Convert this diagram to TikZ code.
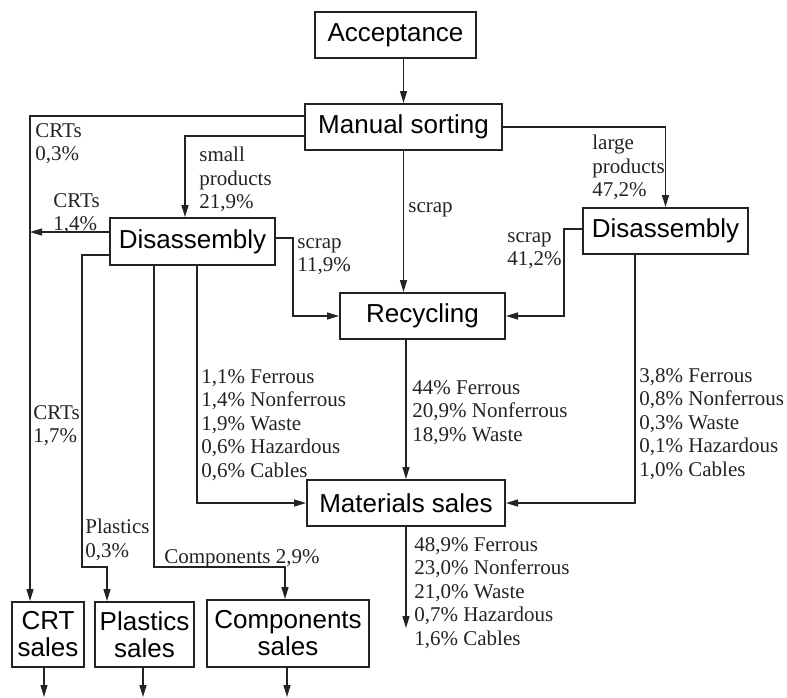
\documentclass[tikz,border=0pt]{standalone}
\usepackage{fontspec}
\setmainfont{Liberation Serif}
\setsansfont{Liberation Sans}
\usetikzlibrary{arrows.meta,positioning}
\definecolor{linecol}{RGB}{35,35,35}
\tikzset{
  block/.style ={rectangle, draw=linecol, line width=1pt, align=center, inner sep=1pt,
                 minimum height=23pt, text=black, font=\sffamily\fontsize{13}{13.5}\selectfont},
  flow/.style  ={-{Triangle[length=6pt,width=3.5pt]}, line width=0.65pt, draw=linecol},
  lbl/.style   ={font=\fontsize{10.5}{11.75}\selectfont, align=left, inner sep=0pt,
                 anchor=north west, text=linecol},
}
\begin{document}
\begin{tikzpicture}[x=0.5pt,y=-0.5pt]
    \useasboundingbox (0,0) rectangle (787,697);
    % boxes
    \node[block, minimum width=80.5pt] (acc)  at (395.5,35)  {Acceptance};
    \node[block, minimum width=98.5pt] (sort) at (403.5,127) {Manual sorting};
    \node[block, minimum width=82.5pt, minimum height=23.5pt] (disL) at (192.5,241.5) {Disassembly};
    \node[block, minimum width=82.5pt] (disR) at (665.5,231) {Disassembly};
    \node[block, minimum width=82.5pt] (rec)  at (422.5,316) {Recycling};
    \node[block, minimum width=99pt]   (mat)  at (406,503)   {Materials sales};
    \node[block, minimum width=36pt, minimum height=32.5pt]   (crt) at (48,634.5)  {CRT\\sales};
    \node[block, minimum width=49.5pt, minimum height=32.5pt] (pla) at (144.5,634.5) {Plastics\\sales};
    \node[block, minimum width=81pt, minimum height=33.5pt]   (com) at (288,633.5) {Components\\sales};

    % bend points and free ends
    \coordinate (crtTop) at (30,116);   \coordinate (crtMid) at (30,232);
    \coordinate (smallBend) at (185,136);
    \coordinate (plaA) at (82,255);     \coordinate (plaB) at (82,567);   \coordinate (plaC) at (107,567);
    \coordinate (comA) at (154,567);    \coordinate (comB) at (285,567);
    \coordinate (matL) at (197,503);    \coordinate (matR) at (635,503);
    \coordinate (scrL) at (293,238);    \coordinate (scrR) at (564,229);
    \coordinate (matOut) at (406,628);
    \coordinate (crtOut) at (44,697);   \coordinate (plaOut) at (143,697); \coordinate (comOut) at (287,697);

    % flows
    \draw[flow] (sort.north |- acc.south) -- (sort.north);
    \draw[flow] (sort.west |- crtTop) -- (crtTop) -- (crtTop |- crt.north);
    \draw[flow] (sort.west |- smallBend) -- (smallBend) -- (smallBend |- disL.north);
    \draw[flow] (disL.west |- crtMid) -- (crtMid);
    \draw[flow] (disL.west |- plaA) -- (plaA) -- (plaB) -- (plaC) -- (plaC |- pla.north);
    \draw[flow] (disL.south -| comA) -- (comA) -- (comB) -- (comB |- com.north);
    \draw[flow] (disL.south -| matL) -- (matL) -- (mat.west);
    \draw[flow] (disL.east |- scrL) -- (scrL) -- (scrL |- rec.west) -- (rec.west);
    \draw[flow] (sort.south) -- (sort.south |- rec.north);
    \draw[flow] (sort.east) -| (disR.north);
    \draw[flow] (disR.west |- scrR) -- (scrR) -- (scrR |- rec.east) -- (rec.east);
    \draw[flow] (disR.south -| matR) -- (matR) -- (mat.east);
    \draw[flow] (mat.north |- rec.south) -- (mat.north);
    \draw[flow] (mat.south) -- (matOut);
    \draw[flow] (crt.south -| crtOut) -- (crtOut);
    \draw[flow] (pla.south -| plaOut) -- (plaOut);
    \draw[flow] (com.south -| comOut) -- (comOut);

    % labels
    \node[lbl] (lCrtA)   at (35,123)  {CRTs\\0,3\%};
    \node[lbl] (lSmall)  at (199,147) {small\\products\\21,9\%};
    \node[lbl] (lCrtB)   at (53,193)  {CRTs\\1,4\%};
    \node[lbl] (lScrL)   at (297,238) {scrap\\11,9\%};
    \node[lbl] (lScrM)   at (408,202) {scrap};
    \node[lbl] (lLarge)  at (592,135) {large\\products\\47,2\%};
    \node[lbl] (lScrR)   at (507,232) {scrap\\41,2\%};
    \node[lbl] (lMatL)   at (201,369) {1,1\% Ferrous\\1,4\% Nonferrous\\1,9\% Waste\\0,6\% Hazardous\\0,6\% Cables};
    \node[lbl] (lCrtC)   at (33,405)  {CRTs\\1,7\%};
    \node[lbl] (lRec)    at (412,380) {44\% Ferrous\\20,9\% Nonferrous\\18,9\% Waste};
    \node[lbl] (lMatR)   at (639,368) {3,8\% Ferrous\\0,8\% Nonferrous\\0,3\% Waste\\0,1\% Hazardous\\1,0\% Cables};
    \node[lbl] (lPla)    at (85,519)  {Plastics\\0,3\%};
    \node[lbl] (lCom)    at (164,549) {Components 2,9\%};
    \node[lbl] (lOut)    at (414,537) {48,9\% Ferrous\\23,0\% Nonferrous\\21,0\% Waste\\0,7\% Hazardous\\1,6\% Cables};
\end{tikzpicture}
\end{document}
